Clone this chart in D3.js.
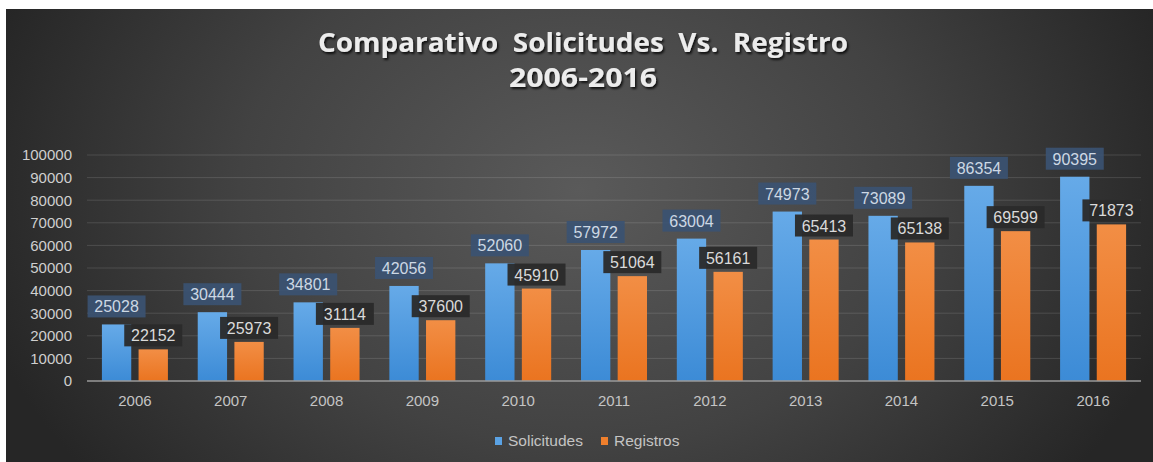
<!DOCTYPE html>
<html>
<head>
<meta charset="utf-8">
<script src="https://cdn.jsdelivr.net/npm/d3@7"></script>
<style>
  body { margin: 0; background: #fff; }
  svg { display: block; }
  text { font-family: "Liberation Sans", Arial, sans-serif; }
  .title { font-family: "Liberation Sans Narrow", "Open Sans", sans-serif; }
</style>
</head>
<body>
<svg id="chart"></svg>
<script>
// data
var years = ["2006", "2007", "2008", "2009", "2010", "2011", "2012", "2013", "2014", "2015", "2016"];
var series = ["Solicitudes", "Registros"];
var solicitudes = [25028, 30444, 34801, 42056, 52060, 57972, 63004, 74973, 73089, 86354, 90395];
// the orange bars in the picture are drawn shorter than their labels say
var registrosBar = [14000, 17300, 23500, 26900, 40900, 46400, 48300, 62600, 61300, 66300, 69300];
var registrosLabel = [22152, 25973, 31114, 37600, 45910, 51064, 56161, 65413, 65138, 69599, 71873];
var yTicks = [0, 10000, 20000, 30000, 40000, 50000, 60000, 70000, 80000, 90000, 100000];

function createBarChart() {
    var W = 1153, H = 462;
    var plot = {left: 87, right: 1141, top: 155, bottom: 381};

    var svg = d3.select("#chart")
        .attr("width", W)
        .attr("height", H);

    var defs = svg.append("defs");

    // background gradient
    var bg = defs.append("radialGradient")
        .attr("id", "bg")
        .attr("gradientUnits", "userSpaceOnUse")
        .attr("cx", 580).attr("cy", 190).attr("r", 620)
        .attr("gradientTransform", "translate(580,190) scale(1,0.75) translate(-580,-190)");
    bg.append("stop").attr("offset", "0%").attr("stop-color", "#5a5a5a");
    bg.append("stop").attr("offset", "55%").attr("stop-color", "#424242");
    bg.append("stop").attr("offset", "100%").attr("stop-color", "#262626");

    var gBlue = defs.append("linearGradient").attr("id", "gBlue")
        .attr("x1", 0).attr("y1", 0).attr("x2", 0).attr("y2", 1);
    gBlue.append("stop").attr("offset", "0%").attr("stop-color", "#66aae8");
    gBlue.append("stop").attr("offset", "100%").attr("stop-color", "#3c8bd6");

    var gOrange = defs.append("linearGradient").attr("id", "gOrange")
        .attr("x1", 0).attr("y1", 0).attr("x2", 0).attr("y2", 1);
    gOrange.append("stop").attr("offset", "0%").attr("stop-color", "#f28e45");
    gOrange.append("stop").attr("offset", "100%").attr("stop-color", "#ea7420");

    var shadow = defs.append("filter").attr("id", "shadow")
        .attr("x", "-10%").attr("y", "-30%").attr("width", "120%").attr("height", "160%");
    shadow.append("feDropShadow")
        .attr("dx", 1.5).attr("dy", 2).attr("stdDeviation", 1.2)
        .attr("flood-color", "#000").attr("flood-opacity", 0.8);

    svg.append("rect")
        .attr("x", 6).attr("y", 9)
        .attr("width", W - 6).attr("height", H - 9)
        .attr("fill", "url(#bg)");

    // title
    svg.append("text")
        .attr("class", "title")
        .attr("x", 583).attr("y", 52)
        .attr("text-anchor", "middle")
        .attr("textLength", 530)
        .attr("lengthAdjust", "spacingAndGlyphs")
        .style("white-space", "pre")
        .attr("font-size", 27).attr("font-weight", "bold")
        .attr("fill", "#ececec")
        .attr("filter", "url(#shadow)")
        .text("Comparativo  Solicitudes  Vs.  Registro");
    svg.append("text")
        .attr("class", "title")
        .attr("x", 583).attr("y", 87)
        .attr("text-anchor", "middle")
        .attr("textLength", 148)
        .attr("lengthAdjust", "spacingAndGlyphs")
        .attr("font-size", 26).attr("font-weight", "bold")
        .attr("fill", "#ececec")
        .attr("filter", "url(#shadow)")
        .text("2006-2016");

    // scales
    var x = d3.scaleBand()
        .domain(years)
        .range([plot.left, plot.right]);
    var groupW = 66;
    var xs = d3.scaleBand()
        .domain(series)
        .range([(x.bandwidth() - groupW) / 2, (x.bandwidth() + groupW) / 2])
        .paddingInner(0.2);
    var y = d3.scaleLinear()
        .domain([0, 100000])
        .range([plot.bottom, plot.top]);

    // gridlines
    svg.append("g")
        .selectAll("line")
        .data(yTicks.slice(1))
        .enter().append("line")
        .attr("x1", plot.left).attr("x2", plot.right)
        .attr("y1", function(d) { return y(d); })
        .attr("y2", function(d) { return y(d); })
        .attr("stroke", "#ffffff")
        .attr("stroke-opacity", 0.13)
        .attr("stroke-width", 1);

    // y axis labels
    var yAxis = svg.append("g")
        .attr("transform", "translate(" + plot.left + ",0)")
        .call(d3.axisLeft(y).tickValues(yTicks).tickSize(0).tickPadding(15).tickFormat(d3.format("d")));
    yAxis.select(".domain").remove();
    yAxis.selectAll("text")
        .attr("font-size", 15)
        .attr("font-family", "Liberation Sans, Arial, sans-serif")
        .attr("fill", "#cfcfcf");

    var rows = years.map(function(yr, i) {
        return {year: yr, sol: solicitudes[i], regBar: registrosBar[i], regLab: registrosLabel[i]};
    });

    // bars
    var groups = svg.append("g").selectAll("g")
        .data(rows)
        .enter().append("g")
        .attr("transform", function(d) { return "translate(" + x(d.year) + ",0)"; });

    groups.append("rect")
        .attr("x", xs("Solicitudes"))
        .attr("width", xs.bandwidth())
        .attr("y", function(d) { return y(d.sol); })
        .attr("height", function(d) { return y(0) - y(d.sol); })
        .attr("fill", "url(#gBlue)");

    groups.append("rect")
        .attr("x", xs("Registros"))
        .attr("width", xs.bandwidth())
        .attr("y", function(d) { return y(d.regBar); })
        .attr("height", function(d) { return y(0) - y(d.regBar); })
        .attr("fill", "url(#gOrange)");

    // x axis line
    svg.append("line")
        .attr("x1", plot.left).attr("x2", plot.right)
        .attr("y1", y(0)).attr("y2", y(0))
        .attr("stroke", "#9a9a9a").attr("stroke-width", 1.5);

    // x axis labels
    var xAxis = svg.append("g")
        .attr("transform", "translate(0," + y(0) + ")")
        .call(d3.axisBottom(x).tickSize(0).tickPadding(14));
    xAxis.select(".domain").remove();
    xAxis.selectAll("text")
        .attr("font-size", 15)
        .attr("font-family", "Liberation Sans, Arial, sans-serif")
        .attr("fill", "#c4c4c4");

    // data labels
    var boxW = 58, boxH = 22;
    var blueLab = groups.append("g")
        .attr("transform", function(d) {
            return "translate(" + (xs("Solicitudes") + xs.bandwidth() / 2) + "," + (y(d.sol) - 7 - boxH) + ")";
        });
    blueLab.append("rect")
        .attr("x", -boxW / 2).attr("width", boxW).attr("height", boxH)
        .attr("fill", "#3b5272").attr("fill-opacity", 0.92);
    blueLab.append("text")
        .attr("y", boxH / 2 + 6)
        .attr("text-anchor", "middle")
        .attr("font-size", 16)
        .attr("fill", "#cdd8e4")
        .text(function(d) { return d.sol; });

    var orangeLab = groups.append("g")
        .attr("transform", function(d) {
            return "translate(" + (xs("Registros") + xs.bandwidth() / 2) + "," + (y(d.regBar) - 3 - boxH) + ")";
        });
    orangeLab.append("rect")
        .attr("x", -boxW / 2).attr("width", boxW).attr("height", boxH)
        .attr("fill", "#2a2a2a").attr("fill-opacity", 0.95);
    orangeLab.append("text")
        .attr("y", boxH / 2 + 6)
        .attr("text-anchor", "middle")
        .attr("font-size", 16)
        .attr("fill", "#dadada")
        .text(function(d) { return d.regLab; });

    // legend
    var legendX = [495, 601];
    var legendFill = ["#5aa2e4", "#ef7f2c"];
    var legend = svg.append("g").selectAll("g")
        .data(series)
        .enter().append("g")
        .attr("transform", function(d, i) { return "translate(" + legendX[i] + ",437)"; });
    legend.append("rect")
        .attr("width", 7).attr("height", 8)
        .attr("fill", function(d, i) { return legendFill[i]; });
    legend.append("text")
        .attr("x", 13).attr("y", 9)
        .attr("font-size", 15.5)
        .attr("fill", "#c4c4c4")
        .text(function(d) { return d; });
}

createBarChart();
</script>
</body>
</html>
